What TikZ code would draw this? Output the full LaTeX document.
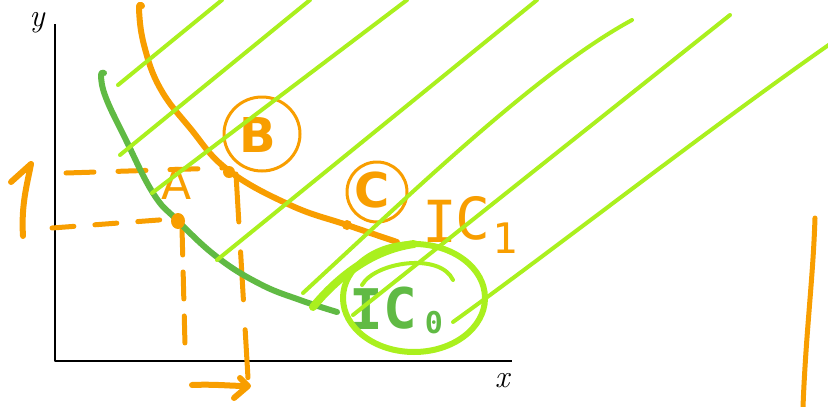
\documentclass[tikz,border=0pt]{standalone}
\usepackage{fontspec}
\newfontfamily\hand{DejaVu Sans}
\newfontfamily\handmono{DejaVu Sans Mono}
\definecolor{ora}{RGB}{248,158,0}
\definecolor{grn}{RGB}{96,186,68}
\definecolor{lim}{RGB}{170,240,30}
\begin{document}
\begin{tikzpicture}[x=1pt,y=-1pt,line cap=round,line join=round,
  hatch/.style={lim,line width=4pt},
  curveline/.style={line width=6pt},
  dashline/.style={ora,line width=5pt},
  ring/.style={ora,line width=3pt},
  dot/.style={ora},
  lab/.style={inner sep=0pt,anchor=center}]
\useasboundingbox (0,0) rectangle (828,407);
% axes
\draw[black,line width=1.6pt,line cap=butt] (55,24) -- (55,361) -- (512,361);
\node[lab] (ylab) at (37,23) {\fontsize{32}{32}\selectfont\itshape y};
\node[lab] (xlab) at (502,381) {\fontsize{32}{32}\selectfont\itshape x};
% dashed guide lines
\draw[dashline,dash pattern=on 28pt off 24pt] (66,173) -- (222,168);
\draw[dashline,dash pattern=on 48pt off 30pt] (236,174) -- (248,378);
\draw[dashline,dash pattern=on 22pt off 21pt] (52,228) -- (172,219);
\draw[dashline,dash pattern=on 27pt off 17pt] (182,228) -- (185,345);
% IC0 (green)
\draw[grn,curveline] plot[smooth,tension=0.7] coordinates {(104,73) (101,76) (106,98) (125,138) (153,193) (177,220) (217,257) (260,284) (300,300) (337,312)};
% IC1 (orange)
\draw[ora,curveline] plot[smooth,tension=0.7] coordinates {(142,6) (139,9) (144,45) (160,88) (190,128) (228,170) (290,205) (347,225) (397,242)};
% points
\coordinate (A) at (178,221);
\coordinate (B) at (229,172);
\coordinate (C) at (347,225);
\fill[dot] (A) ellipse [x radius=7pt,y radius=8pt];
\fill[dot] (B) circle (6pt);
\fill[dot] (C) circle (5pt);
% rings
\draw[ring] (262,134) ellipse [x radius=38pt,y radius=37pt];
\draw[ring] (377,192) circle (30pt);
% labels
\node[lab,text=ora] (Alab) at (177,183) {\fontsize{44}{44}\selectfont\hand A};
\node[lab,text=ora] (Blab) at (258,135) {\fontsize{48}{48}\selectfont\hand\bfseries B};
\node[lab,text=ora] (Clab) at (372,190) {\fontsize{48}{48}\selectfont\hand\bfseries C};
\node[lab,text=ora] (IC1i) at (440,221) {\fontsize{58}{58}\selectfont\handmono I};
\node[lab,text=ora] (IC1c) at (473,218) {\fontsize{58}{58}\selectfont\handmono C};
\node[lab,text=ora] (IC1s) at (505,238) {\fontsize{42}{42}\selectfont\handmono 1};
\node[lab,text=grn] (IC0i) at (366,309) {\fontsize{56}{56}\selectfont\handmono\bfseries I};
\node[lab,text=grn] (IC0c) at (400,308) {\fontsize{56}{56}\selectfont\handmono\bfseries C};
\node[lab,text=grn] (IC0s) at (434,323) {\fontsize{30}{30}\selectfont\handmono\bfseries 0};
% arrows
\draw[ora,line width=6pt] (23,236) .. controls (21,205) and (27,185) .. (31,164) -- (11,182);
\draw[ora,line width=6pt] (192,385) .. controls (215,384) and (230,386) .. (247,386);
\draw[ora,line width=6pt] (240,378) -- (248,386) -- (234,398);
% right vertical stroke
\draw[ora,line width=5pt] (815,218) .. controls (813,280) and (806,330) .. (803,407);
% hatching
\draw[hatch] (118,85) -- (222,0);
\draw[hatch] (120,155) -- (310,0);
\draw[hatch] (152,193) -- (407,0);
\draw[hatch] (217,260) -- (537,0);
\draw[hatch] (303,293) .. controls (420,185) and (540,70) .. (632,20);
\draw[hatch] (353,315) -- (730,15);
\draw[hatch] (453,322) .. controls (560,245) and (700,135) .. (830,44);
% ring around IC0
\draw[lim,line width=6pt] (414,298) ellipse [x radius=71pt,y radius=54pt];
\draw[lim,line width=8pt] (313,307) .. controls (335,280) and (370,250) .. (414,244);
\draw[lim,line width=4pt] (362,285) .. controls (375,262) and (440,252) .. (453,280);
\end{tikzpicture}
\end{document}
